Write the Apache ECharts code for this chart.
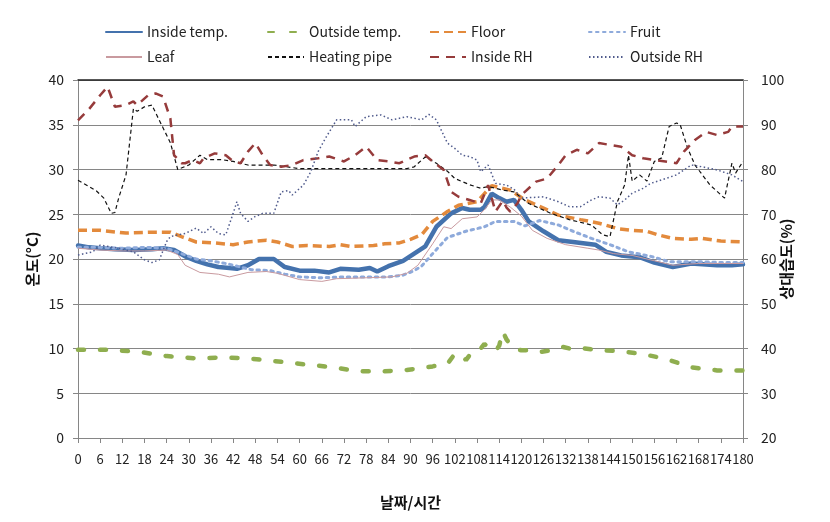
<!DOCTYPE html>
<html><head><meta charset="utf-8">
<script src="https://cdn.jsdelivr.net/npm/echarts@6/dist/echarts.min.js"></script>
<style>html,body{margin:0;padding:0;background:#fff}#c{width:830px;height:522px}</style>
</head><body><div id="c"></div>
<script>
// x axis: hours 0..180, a label every 6 hours
const hours = Array.from({length:181}, (_, i) => String(i));
const xLabelEvery = 6;
const leftTicks = {min: 0, max: 40, step: 5};
const rightTicks = {min: 20, max: 100, step: 10};

const seriesNames = ['Inside temp.','Outside temp.','Floor','Fruit','Leaf','Heating pipe','Inside RH','Outside RH'];

const insideTemp = [[0,21.5],[3,21.3],[6,21.2],[10,21.1],[15,21.0],[20,21.1],[23,21.2],[26,21.0],[29,20.3],[32,19.8],[35,19.4],[38,19.1],[41,19.0],[43,18.9],[46,19.3],[49,20.0],[53,20.0],[56,19.1],[60,18.7],[64,18.7],[68,18.5],[71,18.9],[76,18.8],[79,19.0],[81,18.6],[84,19.2],[88,19.8],[91,20.6],[94,21.4],[97,23.6],[101,25.1],[104,25.7],[106,25.5],[109,25.5],[110,25.8],[112,27.3],[114,26.8],[116,26.4],[118,26.6],[120,25.5],[122,24.2],[126,23.1],[130,22.1],[134,21.9],[140,21.6],[143,20.8],[147,20.4],[152,20.2],[156,19.6],[161,19.1],[166,19.5],[173,19.3],[177,19.3],[180,19.4]];

const outsideTemp = [[0,9.85],[3,9.85],[9,9.85],[17,9.6],[24,9.15],[32,8.9],[39,9.0],[46,8.9],[53,8.6],[61,8.25],[69,7.9],[76,7.45],[83,7.45],[89,7.6],[96,8.0],[100,8.3],[102,9.4],[104,9.2],[105,8.7],[107,9.8],[109,10.0],[110,10.5],[112,9.9],[113,9.7],[114,10.3],[115,11.9],[116,11.0],[118,10.0],[120,9.8],[122,9.8],[125,9.6],[128,9.8],[131,10.2],[134,9.9],[137,10.0],[141,9.8],[145,9.75],[152,9.45],[159,8.85],[166,7.9],[173,7.55],[180,7.55]];

const floorTemp = [[0,23.2],[6,23.2],[13,22.9],[20,23.0],[25,23.0],[28,22.5],[32,21.9],[37,21.8],[42,21.6],[46,21.9],[51,22.1],[54,21.9],[58,21.4],[62,21.5],[68,21.4],[71,21.6],[74,21.4],[80,21.5],[83,21.7],[87,21.8],[90,22.2],[93,22.7],[96,24.2],[100,25.3],[103,26.0],[108,26.4],[110,27.3],[112,28.2],[114,28.0],[117,27.7],[121,26.6],[126,25.7],[130,24.9],[136,24.4],[141,24.0],[146,23.4],[150,23.2],[154,23.1],[157,22.7],[161,22.3],[166,22.2],[169,22.3],[174,22.0],[180,21.9]];

const fruitTemp = [[0,21.3],[6,21.3],[12,21.2],[18,21.3],[24,21.2],[28,20.6],[32,20.0],[36,19.8],[40,19.5],[44,19.1],[47,18.8],[52,18.7],[56,18.3],[60,18.0],[66,17.9],[72,18.0],[78,18.0],[84,18.0],[88,18.2],[91,18.7],[93,19.2],[96,20.6],[100,22.4],[105,23.1],[110,23.6],[113,24.2],[118,24.2],[121,23.7],[125,24.3],[130,23.8],[134,23.1],[139,22.3],[144,21.6],[149,20.8],[155,20.3],[160,19.7],[168,19.7],[174,19.6],[180,19.6]];

const leafTemp = [[0,21.2],[6,21.0],[12,20.9],[18,20.9],[24,21.0],[27,20.5],[29,19.3],[33,18.5],[38,18.3],[41,18.0],[46,18.5],[51,18.6],[54,18.4],[60,17.7],[66,17.5],[70,17.8],[78,17.9],[85,18.0],[89,18.4],[92,19.3],[96,21.7],[99,23.6],[101,23.4],[104,24.5],[108,24.7],[110,25.5],[112,26.6],[114,26.6],[117,25.8],[120,24.8],[123,23.2],[127,22.3],[132,21.6],[138,21.2],[141,21.0],[145,20.6],[150,20.4],[156,19.8],[161,19.3],[168,19.5],[180,19.5]];

const heatingPipe = [[0,28.8],[3,28.1],[5,27.6],[7,26.8],[9,25.1],[10,25.2],[11,26.8],[13,29.4],[15,36.8],[16,36.5],[18,37.0],[20,37.2],[22,35.5],[25,33.0],[27,30.0],[30,30.5],[33,31.6],[35,31.1],[39,31.1],[42,30.9],[46,30.5],[53,30.5],[60,30.1],[70,30.1],[80,30.1],[89,30.1],[91,30.3],[94,31.4],[97,30.7],[100,29.8],[102,29.0],[106,28.3],[109,27.9],[111,28.1],[115,27.7],[118,27.5],[122,26.2],[128,25.1],[133,24.4],[139,23.8],[142,22.7],[144,22.5],[146,26.4],[148,28.3],[149,31.6],[150,28.7],[152,29.4],[154,28.7],[156,30.9],[158,31.3],[160,34.8],[162,35.2],[163,35.0],[165,32.4],[167,30.5],[171,28.3],[175,26.8],[177,30.7],[178,29.6],[180,30.9]];

const insideRH = [[0,91],[3,93.5],[6,96.6],[8,98.5],[10,94],[13,94.4],[15,95.2],[16,94.4],[19,96.6],[21,97],[23,96.3],[25,91.4],[26,83.2],[28,81.4],[29,81.4],[31,82.1],[33,81.4],[34,82.5],[37,83.6],[40,83.2],[42,81.8],[44,81.4],[46,84.0],[48,85.9],[50,83.2],[52,81.0],[55,80.6],[58,81.0],[61,82.1],[65,82.5],[68,82.9],[72,81.8],[75,83.2],[78,85.1],[81,82.1],[84,81.8],[87,81.4],[91,82.9],[94,83.2],[96,81.8],[99,79.9],[101,75.0],[103,73.9],[106,73.2],[109,72.4],[111,76.5],[113,70.6],[115,73.0],[116,71.5],[117,70.6],[119,72.5],[120,74.3],[124,77.3],[127,78.0],[130,81.0],[132,83.2],[135,84.4],[138,83.6],[141,85.9],[144,85.5],[147,85.1],[150,83.2],[153,82.5],[156,82.1],[159,81.8],[162,81.4],[164,84.0],[167,86.6],[170,88.4],[173,87.7],[176,88.4],[177,89.6],[180,89.6]];

const outsideRH = [[0,60.9],[4,61.6],[6,63.1],[11,62.4],[15,61.6],[18,59.8],[20,59.2],[22,59.8],[24,63.9],[25,65.0],[27,65.4],[29,65.7],[32,66.9],[34,65.7],[36,67.2],[38,65.7],[40,65.4],[42,70.2],[43,72.8],[44,70.2],[46,68.4],[48,69.5],[50,70.2],[53,70.2],[55,75.0],[57,75.3],[58,74.3],[61,76.5],[63,79.5],[65,84.0],[67,87.0],[70,91.1],[74,91.1],[75,89.6],[78,91.8],[82,92.2],[85,91.1],[89,91.8],[93,91.1],[95,92.3],[97,91.1],[100,85.9],[102,84.7],[104,83.2],[106,82.9],[108,82.1],[109,79.5],[111,81.0],[113,76.9],[116,76.5],[118,75.6],[120,73.6],[126,73.9],[130,72.8],[133,71.7],[136,71.7],[139,73.2],[141,73.9],[144,73.6],[146,72.1],[148,73.2],[150,74.7],[153,75.8],[155,76.9],[158,77.7],[162,78.8],[166,81.0],[169,80.6],[173,79.9],[177,78.8],[180,77.3]];

const FONT = '"Noto Sans CJK KR","Noto Sans",sans-serif';
const chart = echarts.init(document.getElementById('c'), null, {renderer:'canvas'});

function mk(name, data, yIdx, color, width, type, cap, z) {
  return {name, type:'line', data, yAxisIndex:yIdx, symbol:'none', smooth:false, z:z,
    lineStyle:{color, width, type, cap:cap||'butt'}, itemStyle:{color}, animation:false};
}
const series = [
  mk(seriesNames[0], insideTemp, 0, '#4472ad', 4.5, 'solid', 'round', 2),
  mk(seriesNames[1], outsideTemp, 0, '#8fae4f', 4.5, [6,16], 'round', 3),
  mk(seriesNames[2], floorTemp, 0, '#e38a3c', 3.5, [9,5], 'butt', 4),
  mk(seriesNames[3], fruitTemp, 0, '#8eaadb', 3, [2.5,4.5], 'round', 5),
  mk(seriesNames[4], leafTemp, 0, '#c99a9f', 1, 'solid', 'butt', 6),
  mk(seriesNames[5], heatingPipe, 0, '#111111', 1.2, [4,3], 'butt', 7),
  mk(seriesNames[6], insideRH, 1, '#963b3b', 2.5, [9,7], 'butt', 8),
  mk(seriesNames[7], outsideRH, 1, '#4f5a8c', 1.5, [1.5,2.5], 'butt', 9),
];

const legendPos = [[105,25],[267,25],[429,25],[588,25],[105,50],[267,50],[429,50],[588,50]];
const legends = seriesNames.map((n,i)=>({
  data:[n], left:legendPos[i][0], top:legendPos[i][1], itemWidth:36, itemHeight:14, padding:0,
  itemStyle:{color:'rgba(0,0,0,0)', borderColor:'rgba(0,0,0,0)', borderWidth:0},
  textStyle:{fontFamily:FONT, fontSize:14, color:'#222'}, selectedMode:false
}));

const axisLineGray = {show:true, lineStyle:{color:'#868686', width:1}};
chart.setOption({
  backgroundColor:'#fff',
  animation:false,
  legend: legends,
  grid:{left:78, right:87, top:80, bottom:84, containLabel:false},
  xAxis:[{
    type:'category', data:hours, boundaryGap:false,
    axisLine:axisLineGray,
    axisTick:{show:true, length:5, interval:xLabelEvery-1, lineStyle:{color:'#868686'}},
    splitLine:{show:false},
    axisLabel:{fontFamily:FONT, fontSize:13, color:'#222', margin:15, interval:xLabelEvery-1, hideOverlap:false, showMaxLabel:true, showMinLabel:true},
    name:'날짜/시간', nameLocation:'middle', nameGap:57, nameMoveOverlap:false,
    nameTextStyle:{fontFamily:FONT, fontSize:15, fontWeight:'bold', color:'#111'}
  },{
    type:'value', min:0, max:180, position:'top',
    axisLine:{show:true, lineStyle:{color:'#222', width:1.5}}, axisTick:{show:false}, axisLabel:{show:false}, splitLine:{show:false}
  }],
  yAxis:[{
    type:'value', min:leftTicks.min, max:leftTicks.max, interval:leftTicks.step, position:'left',
    axisLine:axisLineGray, axisTick:{show:true, length:5, lineStyle:{color:'#868686'}},
    splitLine:{show:true, lineStyle:{color:'#868686', width:1}},
    axisLabel:{fontFamily:FONT, fontSize:14, color:'#222', margin:14},
    name:'온도(°C)', nameLocation:'middle', nameGap:38, nameRotate:90, nameMoveOverlap:false,
    nameTextStyle:{fontFamily:FONT, fontSize:15, fontWeight:'bold', color:'#111'}
  },{
    type:'value', min:rightTicks.min, max:rightTicks.max, interval:rightTicks.step, position:'right',
    axisLine:axisLineGray, axisTick:{show:true, length:5, lineStyle:{color:'#868686'}},
    splitLine:{show:false},
    axisLabel:{fontFamily:FONT, fontSize:14, color:'#222', margin:18},
    name:'상대습도(%)', nameLocation:'middle', nameGap:36, nameRotate:90, nameMoveOverlap:false,
    nameTextStyle:{fontFamily:FONT, fontSize:15, fontWeight:'bold', color:'#111'}
  }],
  series
});
</script></body></html>
